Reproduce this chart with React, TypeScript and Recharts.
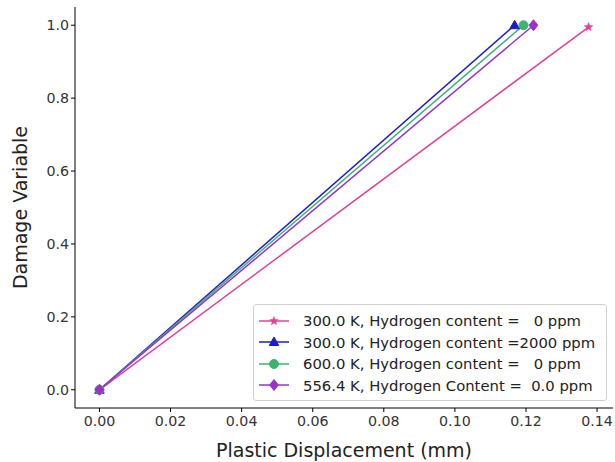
import React from "react";
import { LineChart, Line, XAxis, YAxis } from "recharts";

const seriesNames = [
  "300.0 K, Hydrogen content =   0 ppm",
  "300.0 K, Hydrogen content =2000 ppm",
  "600.0 K, Hydrogen content =   0 ppm",
  "556.4 K, Hydrogen Content =  0.0 ppm",
];
const seriesColors = ["#e0409a", "#1c1cc8", "#3cb371", "#9932cc"];
const seriesMarkers = ["star", "triangle", "circle", "diamond"];

const pinkX = [0, 0.1376];
const pinkY = [0, 0.995];
const blueX = [0, 0.1168];
const blueY = [0, 1.0];
const greenX = [0, 0.1193];
const greenY = [0, 1.0];
const purpleX = [0, 0.1221];
const purpleY = [0, 1.0];

const xTicks = [0, 0.02, 0.04, 0.06, 0.08, 0.1, 0.12, 0.14];
const yTicks = [0, 0.2, 0.4, 0.6, 0.8, 1.0];

const toPts = (xs: number[], ys: number[]) => xs.map((x, i) => ({ x, y: ys[i] }));
const seriesData = [
  toPts(pinkX, pinkY),
  toPts(blueX, blueY),
  toPts(greenX, greenY),
  toPts(purpleX, purpleY),
];

const FONT = "'DejaVu Sans', sans-serif";

function markerShape(kind: string, cx: number, cy: number, color: string, key?: any) {
  if (kind === "star") {
    const pts: string[] = [];
    const R = 4.5, r = 1.9;
    for (let i = 0; i < 10; i++) {
      const a = -Math.PI / 2 + (i * Math.PI) / 5;
      const rr = i % 2 === 0 ? R : r;
      pts.push(`${cx + rr * Math.cos(a)},${cy + rr * Math.sin(a)}`);
    }
    return <polygon key={key} points={pts.join(" ")} fill={color} stroke={color} strokeWidth={0.5} />;
  }
  if (kind === "triangle") {
    const s = 5;
    return (
      <polygon
        key={key}
        points={`${cx},${cy - s} ${cx - s * 0.95},${cy + s * 0.7} ${cx + s * 0.95},${cy + s * 0.7}`}
        fill={color}
        stroke={color}
      />
    );
  }
  if (kind === "circle") {
    return <circle key={key} cx={cx} cy={cy} r={4.5} fill={color} stroke={color} />;
  }
  const d = 5.5;
  return (
    <polygon
      key={key}
      points={`${cx},${cy - d} ${cx + d * 0.8},${cy} ${cx},${cy + d} ${cx - d * 0.8},${cy}`}
      fill={color}
      stroke={color}
    />
  );
}

const makeDot = (idx: number) => (props: any) => {
  const { cx, cy, index } = props;
  if (cx == null || cy == null) return <g key={index} />;
  return markerShape(seriesMarkers[idx], cx, cy, seriesColors[idx], index);
};

const LegendBox = () => (
  <div
    style={{
      position: "absolute",
      left: 253,
      top: 304,
      width: 354,
      height: 97,
      border: "1px solid #d0d0d0",
      borderRadius: 3,
      background: "rgba(255,255,255,0.85)",
      boxSizing: "border-box",
      paddingTop: 5,
    }}
  >
    {seriesNames.map((name, i) => (
      <div key={i} style={{ display: "flex", alignItems: "center", height: 21.5 }}>
        <svg width={40} height={22} style={{ display: "block" }}>
          <line x1={5} y1={11} x2={35} y2={11} stroke={seriesColors[i]} strokeWidth={1.5} />
          {markerShape(seriesMarkers[i], 20, 11, seriesColors[i])}
        </svg>
        <span
          style={{
            fontFamily: FONT,
            fontSize: 14.8,
            color: "#222",
            whiteSpace: "pre",
            marginLeft: 9,
          }}
        >
          {name}
        </span>
      </div>
    ))}
  </div>
);

export default function App() {
  return (
    <div style={{ position: "absolute", left: 0, top: 0, width: 615, height: 462, background: "#fff" }}>
      <LineChart width={615} height={462} margin={{ top: 7, right: 2, bottom: 0, left: 0 }}>
        <XAxis
          dataKey="x"
          type="number"
          domain={[-0.00688, 0.14448]}
          ticks={xTicks}
          tickFormatter={(v: number) => v.toFixed(2)}
          allowDataOverflow
          stroke="#000"
          tickSize={4}
          height={54}
          tick={{ fill: "#333", fontSize: 14.2, fontFamily: FONT, dy: 2 }}
          label={{
            value: "Plastic Displacement (mm)",
            position: "insideBottom",
            offset: 5,
            style: { fill: "#222", fontSize: 19, fontFamily: FONT },
          }}
        />
        <XAxis xAxisId="top" orientation="top" type="number" domain={[0, 1]} tick={false} tickLine={false} height={0} stroke="#000" />
        <YAxis
          dataKey="y"
          type="number"
          domain={[-0.05, 1.05]}
          ticks={yTicks}
          tickFormatter={(v: number) => v.toFixed(1)}
          allowDataOverflow
          stroke="#000"
          tickSize={4}
          width={75}
          tick={{ fill: "#333", fontSize: 14.2, fontFamily: FONT }}
          label={{
            value: "Damage Variable",
            angle: -90,
            position: "insideLeft",
            offset: 20,
            style: { fill: "#222", fontSize: 19, fontFamily: FONT, textAnchor: "middle" },
          }}
        />
        <YAxis yAxisId="right" orientation="right" type="number" domain={[0, 1]} tick={false} tickLine={false} width={0} stroke="#000" />
        {seriesData.map((d, i) => (
          <Line
            key={i}
            data={d}
            dataKey="y"
            name={seriesNames[i]}
            stroke={seriesColors[i]}
            strokeWidth={1.5}
            dot={makeDot(i)}
            activeDot={false}
            isAnimationActive={false}
            legendType="none"
          />
        ))}
      </LineChart>
      <LegendBox />
    </div>
  );
}
